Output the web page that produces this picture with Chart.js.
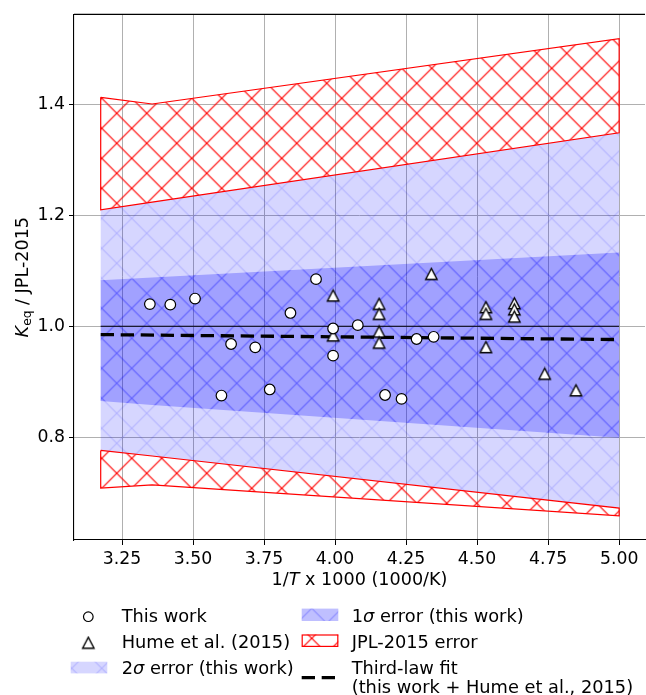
<!DOCTYPE html>
<html>
<head>
<meta charset="utf-8">
<script src="https://cdn.jsdelivr.net/npm/chart.js@4.4.1/dist/chart.umd.min.js"></script>
<style>
  html, body { margin: 0; padding: 0; background: #fff; overflow: hidden; }
  #wrap { width: 646px; height: 695px; overflow: hidden; }
</style>
</head>
<body>
<div id="wrap"><canvas id="chart" width="653" height="695"></canvas></div>
<script>
// axis ticks
const xTicks = [3.25, 3.5, 3.75, 4.0, 4.25, 4.5, 4.75, 5.0];
const yTicks = [0.8, 1.0, 1.2, 1.4];

// measurements, this work
const thisWorkX = [3.348, 3.420, 3.507, 3.600, 3.634, 3.719, 3.770, 3.843, 3.933, 3.993, 3.993, 4.080, 4.176, 4.234, 4.287, 4.347];
const thisWorkY = [1.040, 1.039, 1.050, 0.875, 0.968, 0.962, 0.886, 1.024, 1.085, 0.996, 0.947, 1.002, 0.876, 0.869, 0.977, 0.981];

// Hume et al. (2015)
const humeX = [3.993, 3.993, 4.155, 4.155, 4.155, 4.155, 4.339, 4.531, 4.531, 4.531, 4.631, 4.631, 4.631, 4.738, 4.848];
const humeY = [1.055, 0.983, 1.040, 1.022, 0.990, 0.970, 1.094, 1.034, 1.022, 0.962, 1.041, 1.030, 1.017, 0.914, 0.884];

// error bands (same x for every boundary)
const bandX = [3.175, 3.356, 5.0];
const jplUpper = [1.413, 1.401, 1.519];
const sig2Upper = [1.210, 1.224, 1.349];
const sig1Upper = [1.083, 1.088, 1.133];
const sig1Lower = [0.865, 0.858, 0.799];
const sig2Lower = [0.776, 0.766, 0.672];
const jplLower = [0.708, 0.714, 0.658];

// third-law fit and unity line
const fitX = [3.175, 5.0];
const fitY = [0.985, 0.976];
const unityY = [1.0, 1.0];

const legendLabels = ["This work", "Hume et al. (2015)", "2σ error (this work)",
  "1σ error (this work)", "JPL-2015 error", "Third-law fit", "(this work + Hume et al., 2015)"];

const FONT = "DejaVu Sans";
const FS_TICK = 17.3;
const FS_LABEL = 17.6;
const FS_LEG = 17.8;

function pts(xs, ys) {
  return xs.map((x, i) => ({ x: x, y: ys[i] }));
}

// closed polygon: upper edge left->right, lower edge right->left
function band(xs, upper, lower, close) {
  const p = pts(xs, upper).concat(pts(xs, lower).reverse());
  if (close) p.push(p[0]);
  return p;
}

function hatch(bg, line, lw) {
  const c = document.createElement("canvas");
  c.width = 30;
  c.height = 30;
  const g = c.getContext("2d");
  if (bg) {
    g.fillStyle = bg;
    g.fillRect(0, 0, 30, 30);
  }
  g.strokeStyle = line;
  g.lineWidth = lw;
  g.beginPath();
  g.moveTo(-2, -2); g.lineTo(32, 32);
  g.moveTo(-2, 32); g.lineTo(32, -2);
  g.stroke();
  const p = g.createPattern(c, "repeat");
  p.setTransform(new DOMMatrix([1, 0, 0, 1, 11.7, 8.3]));
  return p;
}

function triangleMarker() {
  const c = document.createElement("canvas");
  c.width = 15;
  c.height = 15;
  const g = c.getContext("2d");
  g.beginPath();
  g.moveTo(7.5, 1.8);
  g.lineTo(1.8, 12.8);
  g.lineTo(13.2, 12.8);
  g.closePath();
  g.fillStyle = "#fff";
  g.fill();
  g.strokeStyle = "#000";
  g.lineWidth = 1.4;
  g.lineJoin = "miter";
  g.stroke();
  return c;
}

const sig2Pattern = hatch("rgba(0,0,255,0.16)", "rgba(0,0,255,0.17)", 1.2);
const sig1Pattern = hatch("rgba(0,0,255,0.25)", "rgba(0,0,255,0.28)", 1.2);
const jplPattern = hatch(null, "#ff0000", 1.2);
const triImg = triangleMarker();

// splits a string so that σ is drawn in italic
function richParts(text, size) {
  const parts = [];
  let cur = "";
  for (const ch of text) {
    if (ch === "σ") {
      if (cur) parts.push({ t: cur, size: size });
      parts.push({ t: ch, it: true, size: size });
      cur = "";
    } else {
      cur += ch;
    }
  }
  if (cur) parts.push({ t: cur, size: size });
  return parts;
}

function partFont(p) {
  return (p.it ? "italic " : "") + p.size + "px '" + FONT + "'";
}

function partsWidth(ctx, parts) {
  let w = 0;
  for (const p of parts) {
    ctx.font = partFont(p);
    w += ctx.measureText(p.t).width;
  }
  return w;
}

function drawParts(ctx, parts, x, y) {
  ctx.textAlign = "left";
  ctx.textBaseline = "alphabetic";
  for (const p of parts) {
    ctx.font = partFont(p);
    ctx.fillText(p.t, x, y + (p.dy || 0));
    x += ctx.measureText(p.t).width;
  }
}

const decor = {
  id: "decor",
  afterDraw(chart) {
    const ctx = chart.ctx;
    const a = chart.chartArea;
    ctx.save();
    ctx.fillStyle = "#000";

    // top spine
    ctx.strokeStyle = "#000";
    ctx.lineWidth = 1.1;
    ctx.beginPath();
    ctx.moveTo(a.left, a.top);
    ctx.lineTo(a.right, a.top);
    ctx.stroke();

    // x title
    const xt = [{ t: "1/", size: FS_LABEL }, { t: "T", it: true, size: FS_LABEL }, { t: " x 1000 (1000/K)", size: FS_LABEL }];
    const xw = partsWidth(ctx, xt);
    drawParts(ctx, xt, (a.left + a.right) / 2 - xw / 2, 584.5);

    // y title
    const yt = [{ t: "K", it: true, size: FS_LABEL }, { t: "eq", size: 12.3, dy: 3.8 }, { t: " / JPL-2015", size: FS_LABEL }];
    const yw = partsWidth(ctx, yt);
    ctx.save();
    ctx.translate(27.5, (a.top + a.bottom) / 2);
    ctx.rotate(-Math.PI / 2);
    drawParts(ctx, yt, -yw / 2, 0);
    ctx.restore();

    // legend
    const col1 = 121.7, col2 = 351.7;
    const rows = [621.5, 647.8, 673.5];
    drawParts(ctx, richParts(legendLabels[0], FS_LEG), col1, rows[0]);
    drawParts(ctx, richParts(legendLabels[1], FS_LEG), col1, rows[1]);
    drawParts(ctx, richParts(legendLabels[2], FS_LEG), col1, rows[2]);
    drawParts(ctx, richParts(legendLabels[3], FS_LEG), col2, rows[0]);
    drawParts(ctx, richParts(legendLabels[4], FS_LEG), col2, rows[1]);
    drawParts(ctx, richParts(legendLabels[5], FS_LEG), col2, rows[2]);
    drawParts(ctx, richParts(legendLabels[6], FS_LEG), col2, rows[2] + 19.5);

    // legend handles
    ctx.beginPath();
    ctx.arc(88.3, 616.7, 4.8, 0, Math.PI * 2);
    ctx.fillStyle = "#fff";
    ctx.fill();
    ctx.lineWidth = 1.2;
    ctx.strokeStyle = "#000";
    ctx.stroke();
    ctx.drawImage(triImg, 88.3 - 7.5, 643 - 7.5);

    ctx.fillStyle = sig2Pattern;
    ctx.fillRect(70.7, 661.7, 36.6, 11.7);
    ctx.fillStyle = sig1Pattern;
    ctx.fillRect(301.7, 608.6, 36.6, 12.4);
    ctx.fillStyle = jplPattern;
    ctx.fillRect(301.7, 634.5, 36.6, 12.4);
    ctx.strokeStyle = "#ff0000";
    ctx.lineWidth = 1.2;
    ctx.strokeRect(302.2, 635, 35.6, 11.4);

    ctx.strokeStyle = "#000";
    ctx.lineWidth = 3.3;
    ctx.setLineDash([13.3, 6.7]);
    ctx.beginPath();
    ctx.moveTo(301.7, 677.7);
    ctx.lineTo(338.3, 677.7);
    ctx.stroke();
    ctx.restore();
  }
};

const chart = new Chart(document.getElementById("chart"), {
  type: "scatter",
  data: {
    datasets: [
      {
        label: "This work",
        data: pts(thisWorkX, thisWorkY),
        pointStyle: "circle",
        pointRadius: 5.3,
        pointBackgroundColor: "#fff",
        pointBorderColor: "#000",
        pointBorderWidth: 1.2,
        order: 0
      },
      {
        label: "Hume et al. (2015)",
        data: pts(humeX, humeY),
        pointStyle: triImg,
        pointRadius: 7,
        order: 1
      },
      {
        label: "Third-law fit",
        data: pts(fitX, fitY),
        showLine: true,
        borderColor: "#000",
        borderWidth: 3.3,
        borderDash: [13.3, 6.7],
        pointRadius: 0,
        order: 2
      },
      {
        label: "unity",
        data: pts(fitX, unityY),
        showLine: true,
        borderColor: "#000",
        borderWidth: 1.2,
        pointRadius: 0,
        order: 3
      },
      {
        label: "JPL-2015 error (upper)",
        data: band(bandX, jplUpper, sig2Upper, true),
        showLine: true,
        fill: "shape",
        backgroundColor: jplPattern,
        borderColor: "#ff0000",
        borderWidth: 1.2,
        pointRadius: 0,
        order: 4
      },
      {
        label: "JPL-2015 error (lower)",
        data: band(bandX, sig2Lower, jplLower, true),
        showLine: true,
        fill: "shape",
        backgroundColor: jplPattern,
        borderColor: "#ff0000",
        borderWidth: 1.2,
        pointRadius: 0,
        order: 4
      },
      {
        label: "1σ error (this work)",
        data: band(bandX, sig1Upper, sig1Lower, false),
        showLine: true,
        fill: "shape",
        backgroundColor: sig1Pattern,
        borderWidth: 0,
        pointRadius: 0,
        order: 5
      },
      {
        label: "2σ error (this work)",
        data: band(bandX, sig2Upper, sig2Lower, false),
        showLine: true,
        fill: "shape",
        backgroundColor: sig2Pattern,
        borderWidth: 0,
        pointRadius: 0,
        order: 6
      }
    ]
  },
  options: {
    responsive: false,
    animation: false,
    devicePixelRatio: 1,
    events: [],
    layout: { padding: { top: 14, left: 0, right: 0, bottom: 0 } },
    plugins: {
      legend: { display: false },
      tooltip: { enabled: false }
    },
    scales: {
      x: {
        type: "linear",
        min: 3.081,
        max: 5.091,
        afterBuildTicks: (s) => { s.ticks = xTicks.map((v) => ({ value: v })); },
        afterFit: (s) => { s.height = 155; },
        ticks: {
          callback: (v) => Number(v).toFixed(2),
          font: { family: FONT, size: FS_TICK },
          color: "#000",
          padding: 4,
          maxRotation: 0,
          autoSkip: false
        },
        grid: { color: "#b0b0b0", lineWidth: 1, tickLength: 5, tickColor: "#000" },
        border: { color: "#000", width: 1.1 }
      },
      y: {
        type: "linear",
        min: 0.6144,
        max: 1.5627,
        afterBuildTicks: (s) => { s.ticks = yTicks.map((v) => ({ value: v })); },
        afterFit: (s) => { s.width = 74; },
        ticks: {
          callback: (v) => Number(v).toFixed(1),
          font: { family: FONT, size: FS_TICK },
          color: "#000",
          padding: 4
        },
        grid: { color: "#b0b0b0", lineWidth: 1, tickLength: 5, tickColor: "#000" },
        border: { color: "#000", width: 1.1 }
      }
    }
  },
  plugins: [decor]
});
</script>
</body>
</html>
